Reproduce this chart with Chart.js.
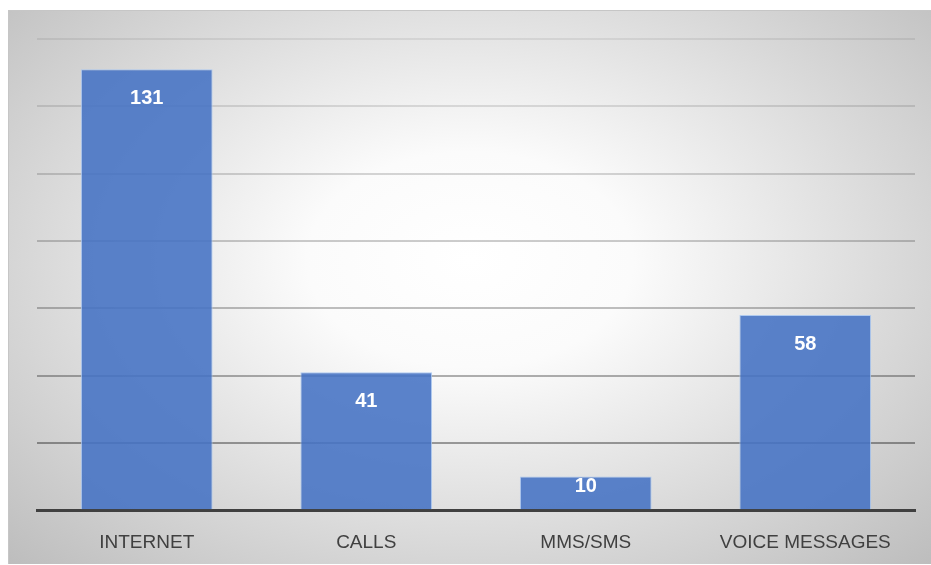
<!DOCTYPE html>
<html>
<head>
<meta charset="utf-8">
<script src="https://cdn.jsdelivr.net/npm/chart.js@4.4.1/dist/chart.umd.min.js"></script>
<style>
    html, body { margin: 0; padding: 0; background: #fff; }
    body { width: 931px; height: 565px; position: relative; overflow: hidden; }
    #panel {
        position: absolute; left: 8px; top: 10px; width: 923px; height: 554px;
        box-sizing: border-box;
        border-top: 1px solid #c6c6c6; border-left: 1px solid #c6c6c6;
        background: radial-gradient(ellipse farthest-corner at 50% 45%, #ffffff 0%, #fbfbfb 25%, #bdbdbd 100%);
    }
</style>
</head>
<body>
<div id="panel"><canvas id="chart"></canvas></div>
<script>
/* ======================================================
    DATA
====================================================== */
const categories = ['INTERNET', 'CALLS', 'MMS/SMS', 'VOICE MESSAGES'];
const counts = [131, 41, 10, 58];
const yTicks = [0, 20, 40, 60, 80, 100, 120, 140];

/* ======================================================
    VALUE LABELS (inside end, white bold)
====================================================== */
const valueLabels = {
    id: 'valueLabels',
    afterDatasetsDraw(chart) {
        const ctx = chart.ctx;
        const meta = chart.getDatasetMeta(0);
        ctx.save();
        ctx.font = 'bold 20px "Liberation Sans", Arial, sans-serif';
        ctx.fillStyle = '#ffffff';
        ctx.textAlign = 'center';
        ctx.textBaseline = 'middle';
        meta.data.forEach((bar, i) => {
            const h = bar.base - bar.y;
            const off = Math.min(29, h / 2 - 6);
            ctx.fillText(String(counts[i]), bar.x, bar.y + off);
        });
        ctx.restore();
    }
};

function gridGradient(context) {
    const chart = context.chart;
    const area = chart.chartArea;
    if (!area) return 'rgba(0,0,0,0.2)';
    const g = chart.ctx.createLinearGradient(0, area.top, 0, area.bottom);
    g.addColorStop(0, 'rgba(0,0,0,0.07)');
    g.addColorStop(0.5, 'rgba(0,0,0,0.22)');
    g.addColorStop(1, 'rgba(0,0,0,0.42)');
    return g;
}

/* ======================================================
    CHART
====================================================== */
new Chart(document.getElementById('chart').getContext('2d'), {
    type: 'bar',
    data: {
        labels: categories,
        datasets: [{
            data: counts,
            backgroundColor: 'rgba(68,114,196,0.88)',
            borderColor: 'rgba(170,198,240,0.9)',
            borderWidth: 1,
            barPercentage: 0.6,
            categoryPercentage: 1
        }]
    },
    options: {
        responsive: true,
        maintainAspectRatio: false,
        animation: false,
        layout: { padding: { left: 28, right: 16, top: 28, bottom: -11 } },
        plugins: { legend: { display: false }, tooltip: { enabled: false } },
        scales: {
            x: {
                grid: { display: false, drawTicks: false },
                border: { display: true, color: '#404040', width: 3 },
                ticks: {
                    color: '#404040',
                    padding: 21,
                    font: { family: '"Liberation Sans", Arial, sans-serif', size: 19 }
                }
            },
            y: {
                min: 0,
                max: 140,
                afterBuildTicks: (scale) => { scale.ticks = yTicks.map(v => ({ value: v })); },
                ticks: { display: false },
                border: { display: false },
                grid: { color: gridGradient, lineWidth: 2, drawTicks: false }
            }
        }
    },
    plugins: [valueLabels]
});
</script>
</body>
</html>
